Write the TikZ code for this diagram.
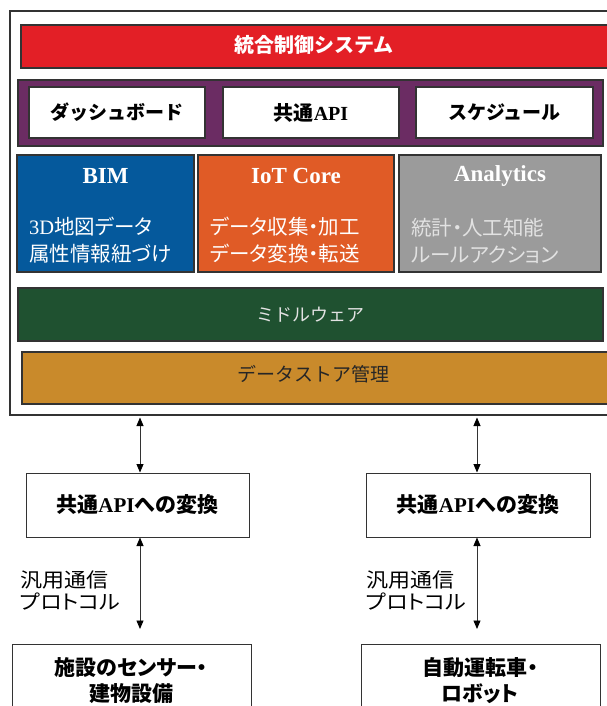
\documentclass[tikz,border=0pt]{standalone}
\usepackage{fontspec}
\setmainfont{Liberation Serif}
\newfontfamily\jp{Noto Sans CJK JP}
\newfontfamily\jpp[RawFeature=+palt]{Noto Sans CJK JP}
\newfontfamily\jpl[RawFeature=+palt,FakeStretch=1.1]{Noto Sans CJK JP}
\usetikzlibrary{arrows.meta}
\definecolor{cred}{HTML}{E31F26}
\definecolor{cpurple}{HTML}{6B2C63}
\definecolor{cblue}{HTML}{05599C}
\definecolor{corange}{HTML}{E05B26}
\definecolor{cgray}{HTML}{9B9B9B}
\definecolor{cgreen}{HTML}{1F5130}
\definecolor{cgold}{HTML}{C98A2B}
\definecolor{cline}{HTML}{333333}
\definecolor{clight}{HTML}{E2E2E2}
\begin{document}
\begin{tikzpicture}[x=1pt,y=-1pt,
  blk/.style={draw=cline, line width=1.3pt, inner sep=0pt, outer sep=0pt, rectangle},
  wbox/.style={blk, fill=white, font=\fontsize{19}{22}\selectfont\bfseries},
  ttl/.style={font=\fontsize{23}{26}\selectfont\bfseries, text=white, inner sep=0pt},
  body/.style={font=\fontsize{20.5}{27}\selectfont\jpp, align=left, anchor=west, inner sep=0pt},
  lab/.style={font=\fontsize{20}{22}\selectfont\jpl, align=left, anchor=west, inner sep=0pt},
  arr/.style={draw=cline, line width=0.9pt, {Triangle[length=8.5pt,width=7pt,color=black]}-{Triangle[length=8.5pt,width=7pt,color=black]}}
]
\useasboundingbox (0,0) rectangle (606,706);
\fill[white] (0,0) rectangle (606,706);

% outer frame
\node[blk, line width=1.5pt, minimum width=604pt, minimum height=404pt] (frame) at (312,213) {};

% red title bar
\node[blk, fill=cred, minimum width=593pt, minimum height=43pt] (ctrl) at (317.5,46.5) {};
\node[text=white, inner sep=0pt, font=\fontsize{20}{24}\selectfont\bfseries\jp] (ctrlT) at (314,45) {統合制御システム};

% purple band with three white boxes
\node[blk, fill=cpurple, minimum width=585pt, minimum height=66pt] (band) at (310.5,113) {};
\node[wbox, minimum width=176pt, minimum height=51pt] (dash) at (117,112.5) {\jp ダッシュボード};
\node[wbox, font=\fontsize{20}{22}\selectfont\bfseries, minimum width=176pt, minimum height=51pt] (api) at (311,112.5) {{\jp 共通}API};
\node[wbox, minimum width=177pt, minimum height=51pt] (sched) at (504.5,112.5) {\jp スケジュール};

% three component boxes
\node[blk, fill=cblue, minimum width=177pt, minimum height=117pt] (bim) at (105.5,213.5) {};
\node[blk, fill=corange, minimum width=196pt, minimum height=117pt] (iot) at (296,213.5) {};
\node[blk, fill=cgray, minimum width=202pt, minimum height=117pt] (ana) at (500,213.5) {};

\node[ttl] (bimT) at (105.5,176) {BIM};
\node[ttl] (iotT) at (296,176) {IoT Core};
\node[ttl] (anaT) at (500,176) {Analytics};

\node[body, text=white] (bimB) at (29,240.5) {{\rmfamily 3D}地図データ\\属性情報紐づけ};
\node[body, text=white] (iotB) at (210,240.5) {データ収集・加工\\データ変換・転送};
\node[body, text=clight] (anaB) at (411,240.5) {統計・人工知能\\ルールアクション};

% middleware and datastore
\node[blk, fill=cgreen, minimum width=585pt, minimum height=53pt] (mid) at (310.5,314.5) {};
\node[font=\fontsize{18}{22}\selectfont\jp, text=clight, inner sep=0pt] (midT) at (310,315) {ミドルウェア};
\node[blk, fill=cgold, minimum width=592pt, minimum height=52pt] (ds) at (318,378) {};
\node[font=\fontsize{19}{22}\selectfont\jp, text=black!85, inner sep=0pt] (dsT) at (313,374) {データストア管理};

% conversion boxes
\node[wbox, font=\fontsize{21}{22}\selectfont\bfseries, line width=1pt, minimum width=223pt, minimum height=64pt] (conv1) at (137.5,505) {{\jp 共通}API{\jp への変換}};
\node[wbox, font=\fontsize{21}{22}\selectfont\bfseries, line width=1pt, minimum width=224pt, minimum height=64pt] (conv2) at (478,505) {{\jp 共通}API{\jp への変換}};

% device boxes
\node[blk, line width=1pt, fill=white, minimum width=239pt, minimum height=76pt] (dev1) at (131.5,682) {};
\node[blk, line width=1pt, fill=white, minimum width=239pt, minimum height=76pt] (dev2) at (480.5,682) {};
\node[font=\fontsize{21}{26}\selectfont\bfseries\jpp, align=center, inner sep=0pt] (dev1T) at (131,681) {施設のセンサー・\\建物設備};
\node[font=\fontsize{21}{26}\selectfont\bfseries\jpp, align=center, inner sep=0pt] (dev2T) at (480,681) {自動運転車・\\ロボット};

% protocol labels
\node[lab] (p1) at (20,590) {汎用通信\\プロトコル};
\node[lab] (p2) at (366,590) {汎用通信\\プロトコル};

% arrows
\coordinate (xa) at (140,0);
\coordinate (xb) at (477,0);
\draw[arr, shorten <=2.5pt, shorten >=0.5pt] (xa |- frame.south) -- (xa |- conv1.north);
\draw[arr, shorten <=2.5pt, shorten >=0.5pt] (xb |- frame.south) -- (xb |- conv2.north);
\draw[arr, shorten <=0.5pt, shorten >=15pt] (xa |- conv1.south) -- (xa |- dev1.north);
\draw[arr, shorten <=0.5pt, shorten >=15pt] (xb |- conv2.south) -- (xb |- dev2.north);
\end{tikzpicture}
\end{document}
